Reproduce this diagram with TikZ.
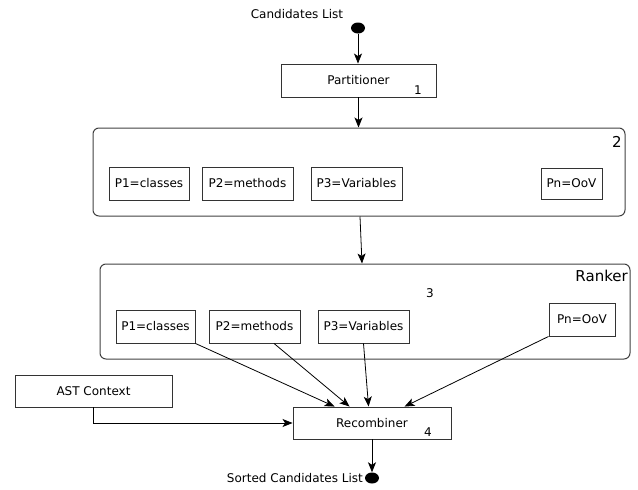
\documentclass[tikz,border=0pt]{standalone}
\usepackage{fontspec}
\setmainfont{DejaVu Sans}
\usetikzlibrary{arrows.meta,shapes.geometric,calc}
\begin{document}
\begin{tikzpicture}[x=1pt,y=-1pt,
  font=\fontsize{12}{14}\selectfont,
  box/.style={draw=black!80, line width=0.9pt, inner sep=0pt},
  group/.style={draw=black!75, line width=1pt, rounded corners=6pt, inner sep=0pt},
  blob/.style={ellipse, fill=black, inner sep=0pt, minimum width=14pt, minimum height=11pt},
  plain/.style={inner sep=0pt},
  big/.style={inner sep=0pt, font=\fontsize{15}{17}\selectfont},
  arr/.style={draw=black, line width=0.8pt, -{Stealth[length=10pt,width=8pt,inset=2.5pt]}}]
\useasboundingbox (0,0) rectangle (638,490);

% top
\node[plain] (cand) at (297,14) {Candidates List};
\node[blob] (dot1) at (358,28) {};
\node[box, minimum width=155pt, minimum height=33pt] (part) at (358.5,80.5) {Partitioner};
\node[plain] (n1) at (418,90) {1};

% partition group
\node[group, minimum width=532pt, minimum height=88pt] (box2) at (359,172) {};
\node[big] (n2) at (617,142) {2};
\node[box, minimum width=80pt, minimum height=33pt] (a1) at (149,183.5) {P1=classes};
\node[box, minimum width=91pt, minimum height=33pt] (a2) at (247.5,183.5) {P2=methods};
\node[box, minimum width=91pt, minimum height=33pt] (a3) at (356.5,183.5) {P3=Variables};
\node[box, minimum width=61pt, minimum height=31pt] (an) at (571.5,183.5) {Pn=OoV};

% ranker group
\node[group, minimum width=530pt, minimum height=95pt] (rank) at (365,311.5) {};
\node[big, anchor=east] (rlabel) at (628,276) {Ranker};
\node[plain] (n3) at (430,293) {3};
\node[box, minimum width=79pt, minimum height=33pt] (r1) at (155.5,326.5) {P1=classes};
\node[box, minimum width=91pt, minimum height=33pt] (r2) at (254.5,326.5) {P2=methods};
\node[box, minimum width=91pt, minimum height=33pt] (r3) at (363.5,326.5) {P3=Variables};
\node[box, minimum width=66pt, minimum height=33pt] (rn) at (582,319.5) {Pn=OoV};

% bottom
\node[box, minimum width=157pt, minimum height=32pt] (ast) at (93.5,391) {AST Context};
\node[box, minimum width=158pt, minimum height=32pt] (rec) at (372,423) {Recombiner};
\node[plain] (n4) at (428,432) {4};
\node[blob] (dot2) at (372,478) {};
\node[plain, anchor=east] (sorted) at (363,478) {Sorted Candidates List};

% connectors
\draw[arr] (dot1) -- (dot1 |- part.north);
\draw[arr] (part.south) -- (part.south |- box2.north);
\draw[arr] ($(box2.south)+(1,0)$) -- ($(rank.north)+(-3,0)$);
\draw[arr] (r1.south east) -- ($(rec.north west)+(42,0)$);
\draw[arr] ($(r2.south)+(19.5,0)$) -- ($(rec.north west)+(57,0)$);
\draw[arr] (r3.south) -- ($(rec.north west)+(76,0)$);
\draw[arr] (rn.south west) -- ($(rec.north west)+(112,0)$);
\draw[arr] (ast.south) |- (rec.west);
\draw[arr] (rec.south) -- (dot2.north);
\end{tikzpicture}
\end{document}
